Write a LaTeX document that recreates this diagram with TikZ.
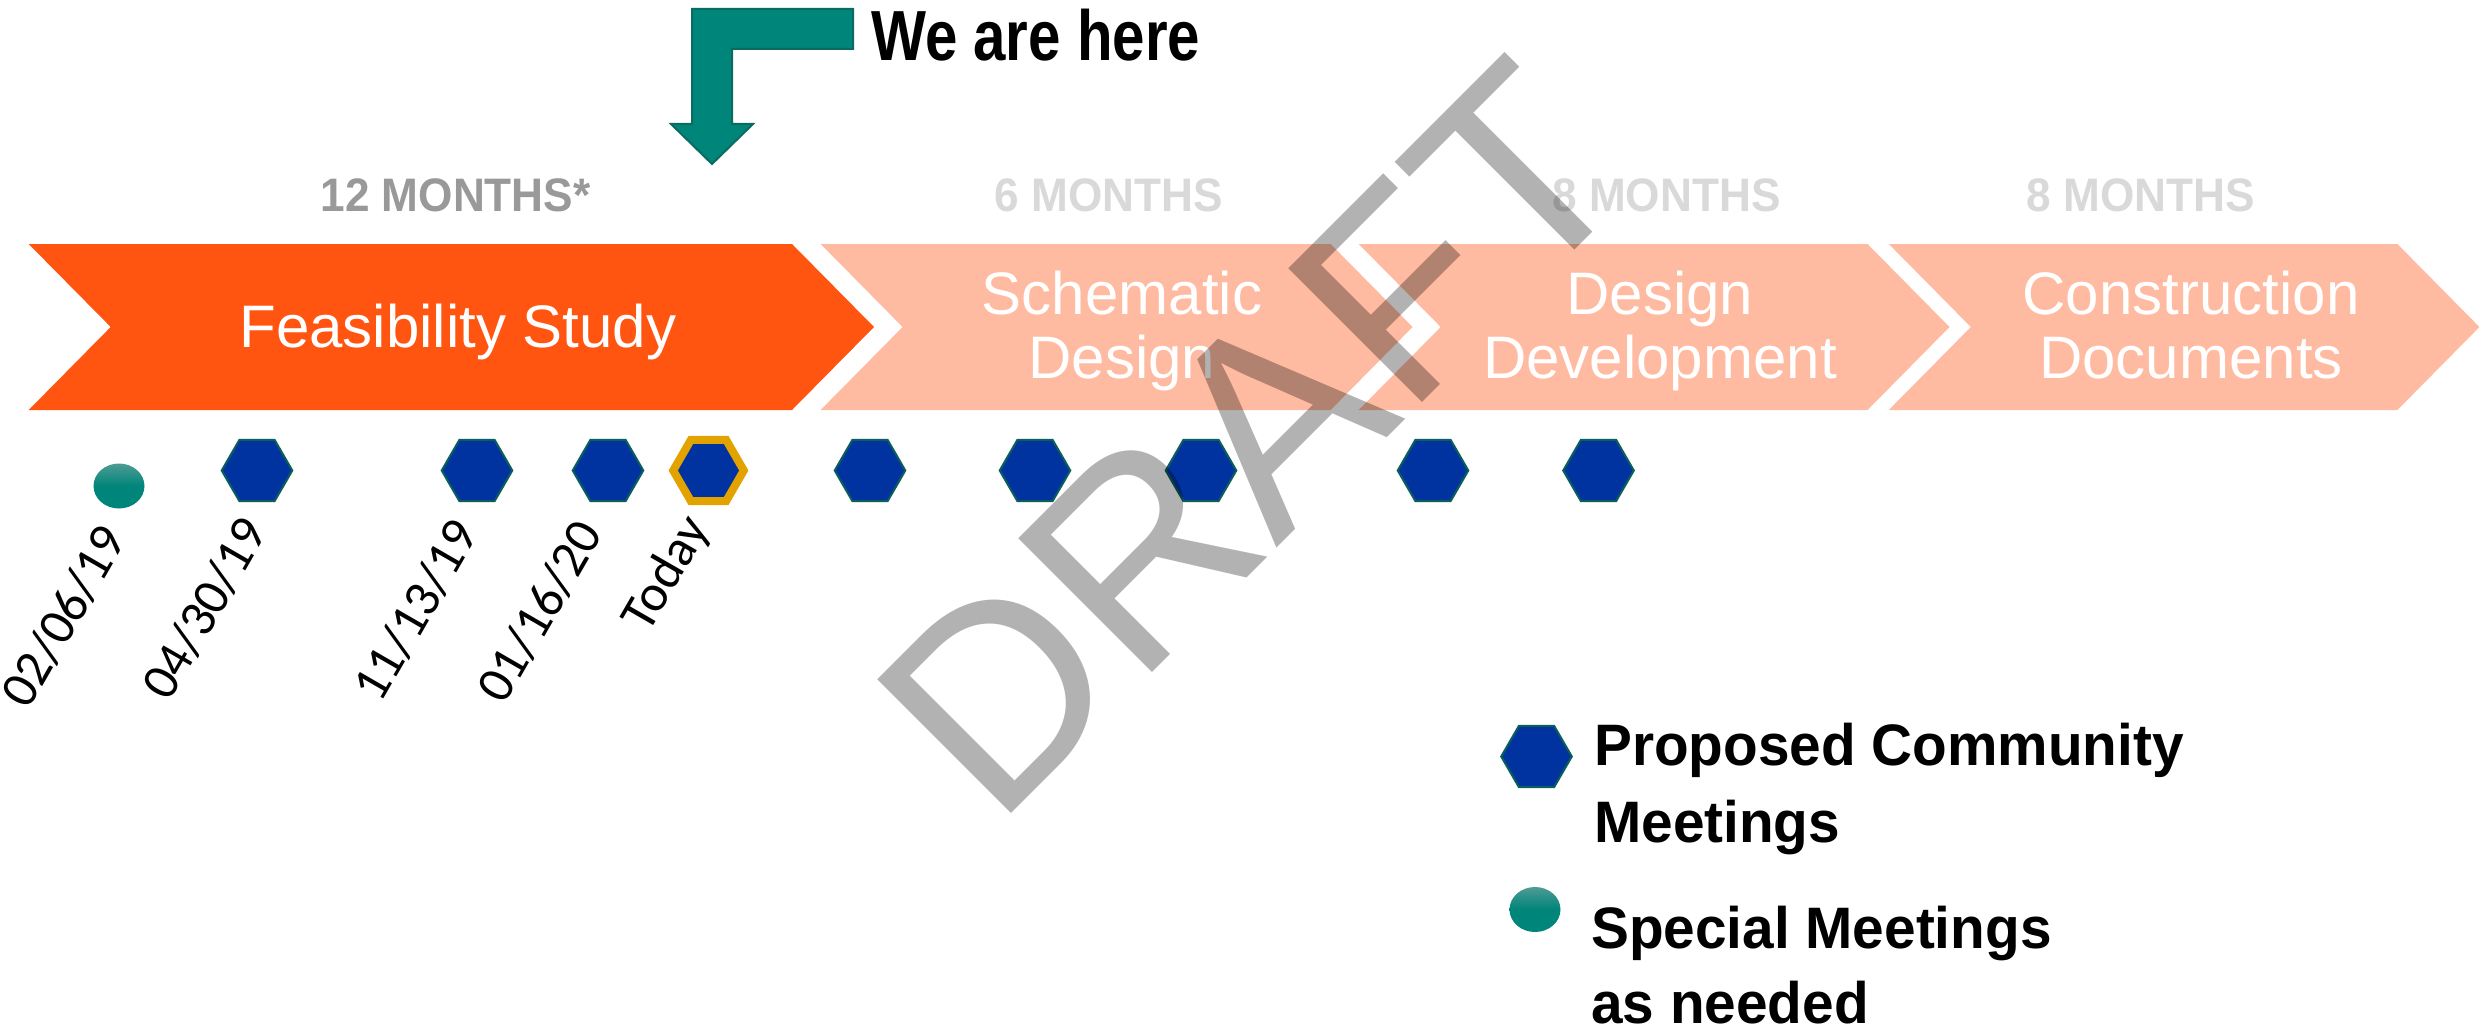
\documentclass[tikz,border=0pt]{standalone}
\usepackage{fontspec}
\setmainfont{Liberation Sans}
\newfontfamily\datefont{Carlito}
\newfontfamily\headfont{Liberation Sans}[FakeStretch=0.94]
\newfontfamily\legfont{Liberation Sans}[FakeStretch=0.97]
\newfontfamily\herefont{Liberation Sans}[FakeStretch=0.82]
\usetikzlibrary{shapes.geometric}
\definecolor{orng}{HTML}{FF5510}
\definecolor{salmon}{HTML}{FFBBA1}
\definecolor{tealA}{HTML}{00857A}
\definecolor{tealE}{HTML}{0A6B61}
\definecolor{tealL}{HTML}{4E9B94}
\definecolor{navy}{HTML}{0033A0}
\definecolor{hexline}{HTML}{0B5F5A}
\definecolor{gold}{HTML}{E2A300}
\definecolor{midgray}{HTML}{999999}
\definecolor{ltgray}{HTML}{D9D9D9}
\tikzset{
  chev/.style={fill=salmon, draw=none},
  chevtext/.style={text=white, inner sep=0, anchor=base, font=\fontsize{60}{64}\selectfont},
  months/.style={inner sep=0, anchor=base, font=\headfont\bfseries\fontsize{47}{50}\selectfont},
  hexmark/.style={regular polygon, regular polygon sides=6, minimum size=70.6pt, inner sep=0pt, outer sep=0pt, fill=navy, draw=hexline, line width=2pt},
  specmark/.style={ellipse, minimum width=51pt, minimum height=45pt, inner sep=0pt, top color=tealL, bottom color=tealA, middle color=tealA, draw=none},
  datelabel/.style={rotate=60, anchor=base east, inner sep=0, font=\datefont\fontsize{52}{56}\selectfont},
  legtext/.style={anchor=base west, inner sep=0, font=\legfont\bfseries\fontsize{58.5}{62}\selectfont}
}
\begin{document}
\begin{tikzpicture}[x=1pt,y=-1pt]
\useasboundingbox (0,0) rectangle (2484,1030);
% chevrons
\path[fill=orng] (28.7,244) -- (792,244) -- (874,327) -- (792,410) -- (28.7,410) -- (110.7,327) -- cycle;
\path[chev] (820.6,244) -- (1330.6,244) -- (1412.6,327) -- (1330.6,410) -- (820.6,410) -- (902.6,327) -- cycle;
\path[chev] (1358.7,244) -- (1867.5,244) -- (1949.5,327) -- (1867.5,410) -- (1358.7,410) -- (1440.7,327) -- cycle;
\path[chev] (1888.8,244) -- (2397.4,244) -- (2479.4,327) -- (2397.4,410) -- (1888.8,410) -- (1970.8,327) -- cycle;
% chevron texts
\node[chevtext] (fs) at (458,347) {Feasibility Study};
\node[chevtext] (sd1) at (1122,314) {Schematic};
\node[chevtext] (sd2) at (1122,378) {Design};
\node[chevtext] (dd1) at (1660,314) {Design};
\node[chevtext] (dd2) at (1660,378) {Development};
\node[chevtext] (cd1) at (2191,314) {Construction};
\node[chevtext] (cd2) at (2191,378) {Documents};
% months
\node[months, text=midgray] (m1) at (455.5,211.5) {12 MONTHS*};
\node[months, text=ltgray] (m2) at (1109,211.5) {6 MONTHS};
\node[months, text=ltgray] (m3) at (1666.5,211.5) {8 MONTHS};
\node[months, text=ltgray] (m4) at (2141,211.5) {8 MONTHS};
% we are here arrow
\path[fill=tealA, draw=tealE, line width=2pt, line join=miter]
  (692,9) -- (853,9) -- (853,49) -- (732,49) -- (732,124) -- (753,124) -- (712,164) -- (671,124) -- (692,124) -- cycle;
\node[anchor=base west, inner sep=0, font=\herefont\bfseries\fontsize{71}{74}\selectfont] (here) at (871,61) {We are here};
% markers
\node[specmark] (s1) at (119,486) {};
\node[hexmark] (h1) at (257,470.5) {};
\node[hexmark] (h2) at (477,470.5) {};
\node[hexmark] (h3) at (608,470.5) {};
\node[hexmark, draw=gold, line width=8pt] (h4) at (708.5,470.5) {};
\node[hexmark] (h5) at (870,470.5) {};
\node[hexmark] (h6) at (1035,470.5) {};
\node[hexmark] (h7) at (1201,470.5) {};
\node[hexmark] (h8) at (1433,470.5) {};
\node[hexmark] (h9) at (1598.5,470.5) {};
% dates
\node[datelabel] (d1) at (128,539) {02/06/19};
\node[datelabel] (d2) at (269,531) {04/30/19};
\node[datelabel] (d3) at (480,533) {11/13/19};
\node[datelabel] (d4) at (604,534) {01/16/20};
\node[datelabel] (d5) at (710,528) {Today};
% legend
\node[hexmark] (lh) at (1536.5,756.5) {};
\node[legtext] (l1) at (1594,765) {Proposed Community};
\node[legtext] (l2) at (1594,842) {Meetings};
\node[specmark] (ls) at (1535,909.5) {};
\node[legtext] (l3) at (1591,948) {Special Meetings};
\node[legtext] (l4) at (1591,1023) {as needed};
% watermark
\node[rotate=45, anchor=base west, inner sep=0, text=black, text opacity=0.3, font=\fontsize{275}{275}\selectfont] (draft) at (995.5,829.5) {DRAFT};
\end{tikzpicture}
\end{document}
